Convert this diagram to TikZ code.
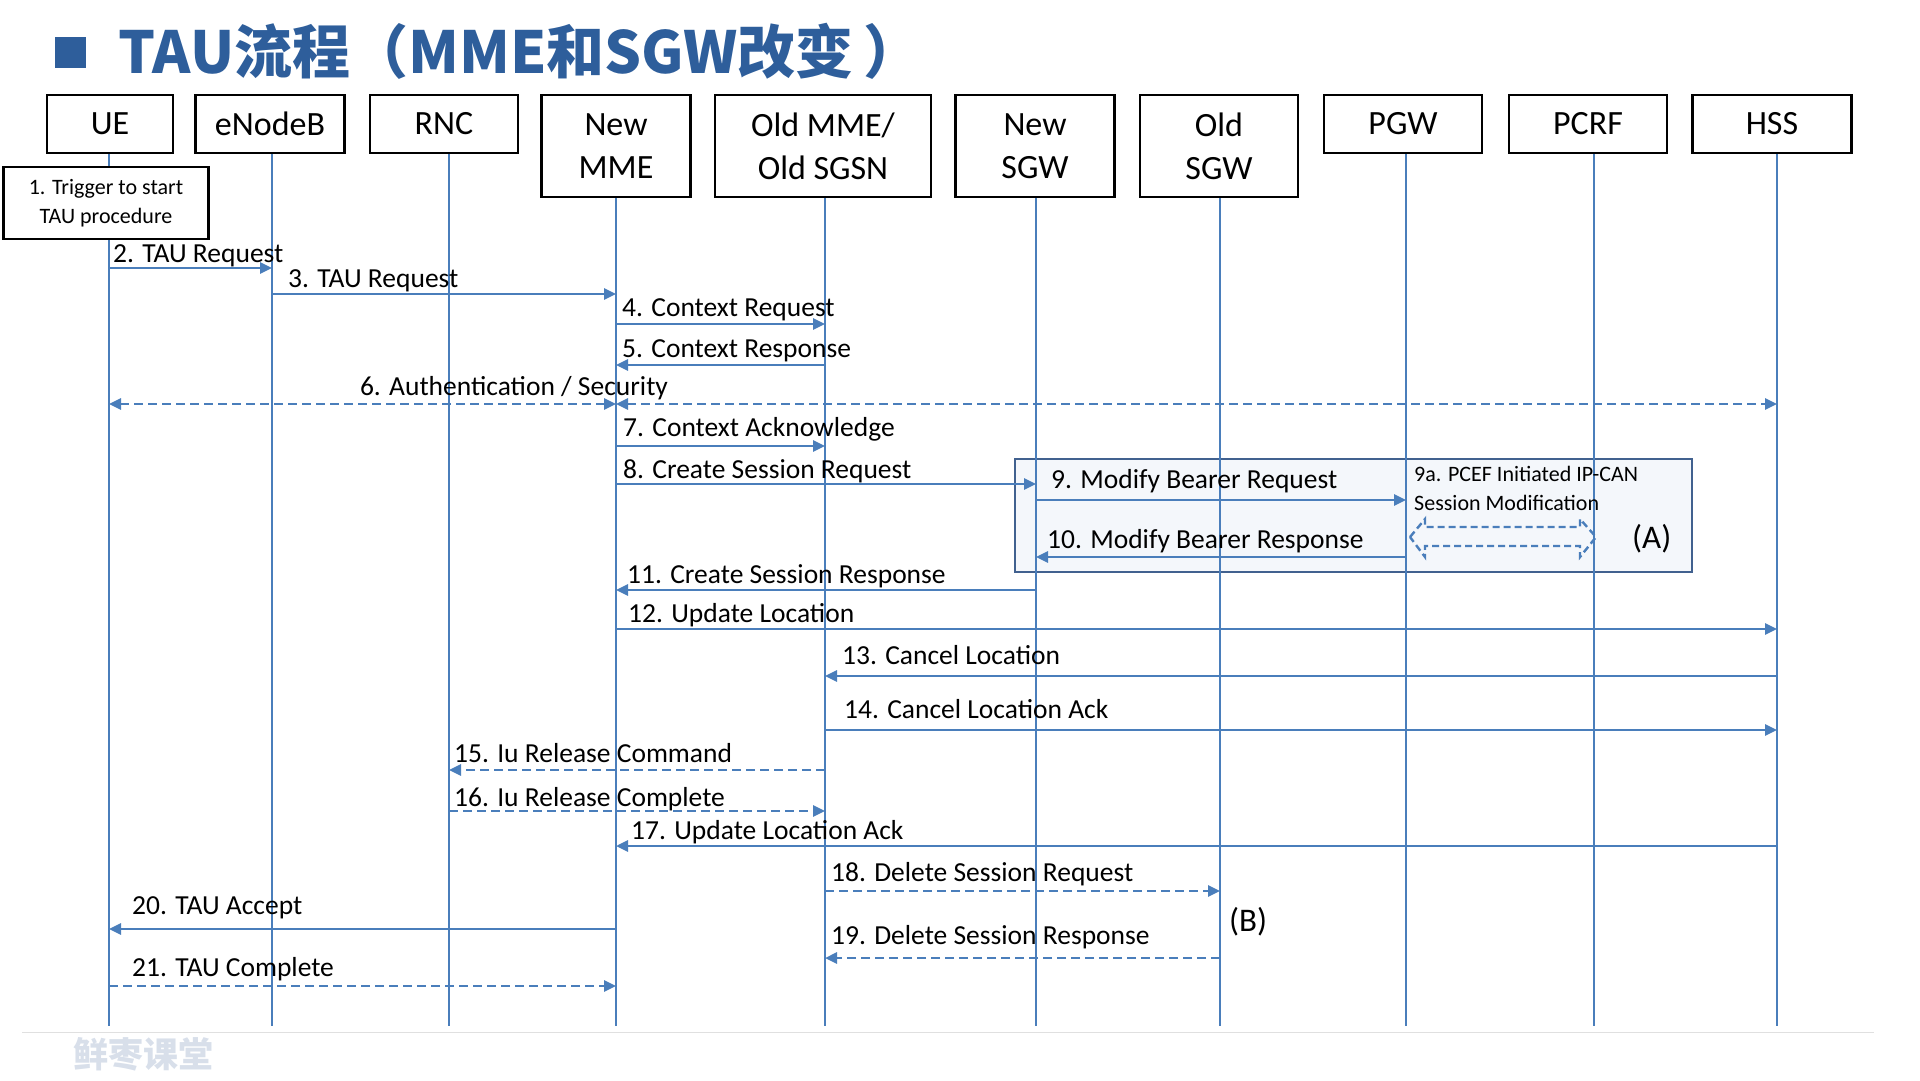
\documentclass[tikz,border=0pt]{standalone}
\usepackage{fontspec}
\setmainfont{Carlito}
\newfontfamily\cjkfont{Noto Sans CJK SC}
\usetikzlibrary{arrows.meta}
\definecolor{lineblue}{HTML}{4A7EBB}
\definecolor{titleblue}{HTML}{2E5E9B}
\definecolor{boxedge}{HTML}{41618F}
\definecolor{boxfill}{HTML}{F4F7FB}
\definecolor{markgray}{HTML}{D8DFEA}
\begin{document}
\begin{tikzpicture}[x=1pt,y=-1pt,
  entity/.style={draw, line width=2.8, fill=white, minimum height=58, inner sep=0, align=center, font=\fontsize{34}{43}\selectfont},
  life/.style={draw=lineblue, line width=2.8},
  msg/.style={draw=lineblue, line width=2.6, -{Triangle[length=12,width=11]}},
  msgdash/.style={msg, dash pattern=on 9pt off 5pt},
  lbl/.style={anchor=base west, inner sep=0, font=\fontsize{27.5}{32}\selectfont}]
\useasboundingbox (0,0) rectangle (1920,1080);

% title
\node[fill=titleblue, minimum size=31, inner sep=0] (bullet) at (70,52) {};
\node[anchor=west, inner sep=0, text=titleblue, font=\cjkfont\bfseries\fontsize{58}{60}\selectfont] (title) at (118,51) {TAU流程（MME和SGW改变\hspace{10pt}）};

% entities
\node[entity, minimum width=126] (ue) at (110,124) {UE};
\node[entity, minimum width=149] (enb) at (270,124) {eNodeB};
\node[entity, minimum width=148] (rnc) at (444,124) {RNC};
\node[entity, minimum width=149, minimum height=102] (mme) at (616,146) {New\\MME};
\node[entity, minimum width=216, minimum height=102] (oldmme) at (823,146) {Old MME/\\Old SGSN};
\node[entity, minimum width=159, minimum height=102] (newsgw) at (1035,146) {New\\SGW};
\node[entity, minimum width=158, minimum height=102] (oldsgw) at (1219,146) {Old\\SGW};
\node[entity, minimum width=158] (pgw) at (1403,124) {PGW};
\node[entity, minimum width=158] (pcrf) at (1588,124) {PCRF};
\node[entity, minimum width=159] (hss) at (1772,124) {HSS};

% box (A)
\node[draw=boxedge, fill=boxfill, line width=2.8, minimum width=677, minimum height=113, inner sep=0] (boxa) at (1353.5,515.5) {};

% lifelines
\foreach \n/\dx in {ue/-1,enb/2,rnc/5,mme/0,oldmme/2,newsgw/1,oldsgw/1,pgw/3,pcrf/6,hss/5} {
  \coordinate (\n-x) at ([xshift=\dx]\n.south);
  \path[life] (\n-x) -- (\n-x |- 0,1026);
}

\node[draw, line width=2.8, fill=white, minimum width=205, minimum height=72, align=center, font=\fontsize{22}{29}\selectfont] (trigger) at (106,203) {1. Trigger to start\\TAU procedure};

% messages
\path[msg] (ue-x |- 0,268) -- (enb-x |- 0,268);
\node[lbl] (l2) at (113,262) {2. TAU Request};
\path[msg] (enb-x |- 0,294) -- (mme-x |- 0,294);
\node[lbl] (l3) at (288,287) {3. TAU Request};
\path[msg] (mme-x |- 0,324) -- (oldmme-x |- 0,324);
\node[lbl] (l4) at (622,316) {4. Context Request};
\path[msg] (oldmme-x |- 0,365) -- (mme-x |- 0,365);
\node[lbl] (l5) at (622,357) {5. Context Response};
\path[msgdash, {Triangle[length=12,width=11]}-{Triangle[length=12,width=11]}] (mme-x |- 0,404) -- (ue-x |- 0,404);
\path[msgdash, {Triangle[length=12,width=11]}-{Triangle[length=12,width=11]}] (mme-x |- 0,404) -- (hss-x |- 0,404);
\node[lbl, anchor=base] (l6) at (514,395) {6. Authentication / Security};
\path[msg] (mme-x |- 0,446) -- (oldmme-x |- 0,446);
\node[lbl] (l7) at (623,436) {7. Context Acknowledge};
\path[msg] (mme-x |- 0,484) -- (newsgw-x |- 0,484);
\node[lbl] (l8) at (623,478) {8. Create Session Request};
\path[msg] (newsgw-x |- 0,500) -- (pgw-x |- 0,500);
\node[lbl] (l9) at (1051,488) {9. Modify Bearer Request};
\node[anchor=west, inner sep=0, align=left, font=\fontsize{22}{29}\selectfont] (l9a) at (1414,488) {9a. PCEF Initiated IP-CAN\\Session Modification};
\path[draw=lineblue, line width=2.4, dash pattern=on 7pt off 4pt] (1410,537) -- (1425,519) -- (1425,527) -- (1580,527) -- (1580,519) -- (1596,537) -- (1580,557) -- (1580,546) -- (1425,546) -- (1425,557) -- cycle;
\path[msg] (pgw-x |- 0,557) -- (newsgw-x |- 0,557);
\node[lbl] (l10) at (1047,548) {10. Modify Bearer Response};
\node[anchor=west, inner sep=0, font=\fontsize{33}{40}\selectfont] (taga) at (1632,539) {(A)};
\path[msg] (newsgw-x |- 0,590) -- (mme-x |- 0,590);
\node[lbl] (l11) at (627,583) {11. Create Session Response};
\path[msg] (mme-x |- 0,629) -- (hss-x |- 0,629);
\node[lbl] (l12) at (628,622) {12. Update Location};
\path[msg] (hss-x |- 0,676) -- (oldmme-x |- 0,676);
\node[lbl] (l13) at (842,664) {13. Cancel Location};
\path[msg] (oldmme-x |- 0,730) -- (hss-x |- 0,730);
\node[lbl] (l14) at (844,718) {14. Cancel Location Ack};
\path[msgdash] (oldmme-x |- 0,770) -- (rnc-x |- 0,770);
\node[lbl] (l15) at (454,762) {15. Iu Release Command};
\path[msgdash] (rnc-x |- 0,811) -- (oldmme-x |- 0,811);
\node[lbl] (l16) at (454,806) {16. Iu Release Complete};
\path[msg] (hss-x |- 0,846) -- (mme-x |- 0,846);
\node[lbl] (l17) at (631,839) {17. Update Location Ack};
\path[msgdash] (oldmme-x |- 0,891) -- (oldsgw-x |- 0,891);
\node[lbl] (l18) at (831,881) {18. Delete Session Request};
\path[msgdash] (oldsgw-x |- 0,958) -- (oldmme-x |- 0,958);
\node[lbl] (l19) at (831,944) {19. Delete Session Response};
\node[anchor=west, inner sep=0, font=\fontsize{33}{40}\selectfont] (tagb) at (1229,922) {(B)};
\path[msg] (mme-x |- 0,929) -- (ue-x |- 0,929);
\node[lbl] (l20) at (132,914) {20. TAU Accept};
\path[msgdash] (ue-x |- 0,986) -- (mme-x |- 0,986);
\node[lbl] (l21) at (132,976) {21. TAU Complete};

% footer
\path[draw=black!12, line width=1] (22,1032) -- (1874,1032);
\node[anchor=west, inner sep=0, text=markgray, font=\cjkfont\bfseries\fontsize{35}{35}\selectfont] (mark) at (73,1054) {鲜枣课堂};
\end{tikzpicture}
\end{document}
